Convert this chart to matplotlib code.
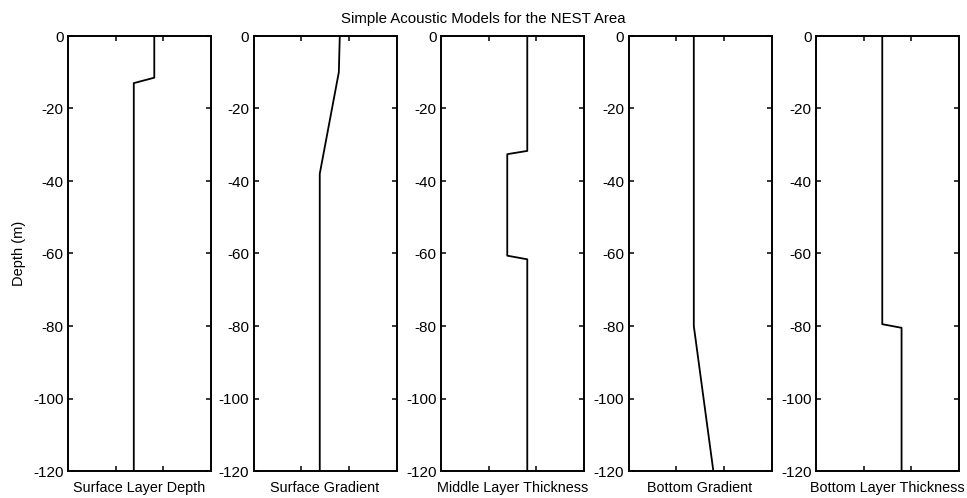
import numpy as np
import matplotlib
matplotlib.use('Agg')
import matplotlib.pyplot as plt

plt.rcParams['font.family'] = ['Liberation Sans', 'DejaVu Sans']

# sound speed profiles (m/s) vs depth (m) for each simple model
TITLES = ['Surface Layer Depth', 'Surface Gradient', 'Middle Layer Thickness',
          'Bottom Gradient', 'Bottom Layer Thickness']
DEPTH_1 = [0, -11.5, -13, -120]
SPEED_1 = [1516.2, 1516.2, 1507.6, 1507.6]
DEPTH_2 = [0, -10, -38, -120]
SPEED_2 = [1516.2, 1515.8, 1507.8, 1507.8]
DEPTH_3 = [0, -31.7, -32.6, -60.6, -61.6, -120]
SPEED_3 = [1516.2, 1516.2, 1507.8, 1507.8, 1516.2, 1516.2]
DEPTH_4 = [0, -80, -120]
SPEED_4 = [1507.4, 1507.4, 1515.6]
DEPTH_5 = [0, -79.5, -80.5, -120]
SPEED_5 = [1507.8, 1507.8, 1515.9, 1515.9]
PROFILES = [(SPEED_1, DEPTH_1), (SPEED_2, DEPTH_2), (SPEED_3, DEPTH_3),
            (SPEED_4, DEPTH_4), (SPEED_5, DEPTH_5)]
XLIM = (1480, 1540)
XTICKS = [1500, 1520]
YTICKS = [0, -20, -40, -60, -80, -100, -120]

W, H = 967, 498
fig = plt.figure(figsize=(W / 100, H / 100), dpi=100)
lefts = [68, 253.5, 441, 628.5, 816]
ax_w = 143
top, bot = 36, 471
for i, (left, title, (spd, dep)) in enumerate(zip(lefts, TITLES, PROFILES)):
    ax = fig.add_axes([left / W, 1 - bot / H, ax_w / W, (bot - top) / H])
    ax.plot(spd, dep, color='black', lw=1.3)
    ax.set_xlim(*XLIM)
    ax.set_ylim(-120, 0)
    ax.set_xticks(XTICKS)
    ax.set_xticklabels([])
    ax.set_yticks(YTICKS)
    ax.set_yticklabels([str(t) for t in YTICKS], fontsize=11)
    ax.tick_params(direction='in', length=3.5, width=1.1, top=True, right=True, pad=3)
    for s in ax.spines.values():
        s.set_linewidth(1.4)
    ax.set_xlabel(title, fontsize=10.4, labelpad=4)
    if i == 0:
        ax.set_ylabel('Depth (m)', fontsize=10.5, labelpad=5)

fig.text(0.5, 1 - 19 / H, 'Simple Acoustic Models for the NEST Area',
         ha='center', va='center', fontsize=10.8)
fig.savefig('out.png', dpi=100)
